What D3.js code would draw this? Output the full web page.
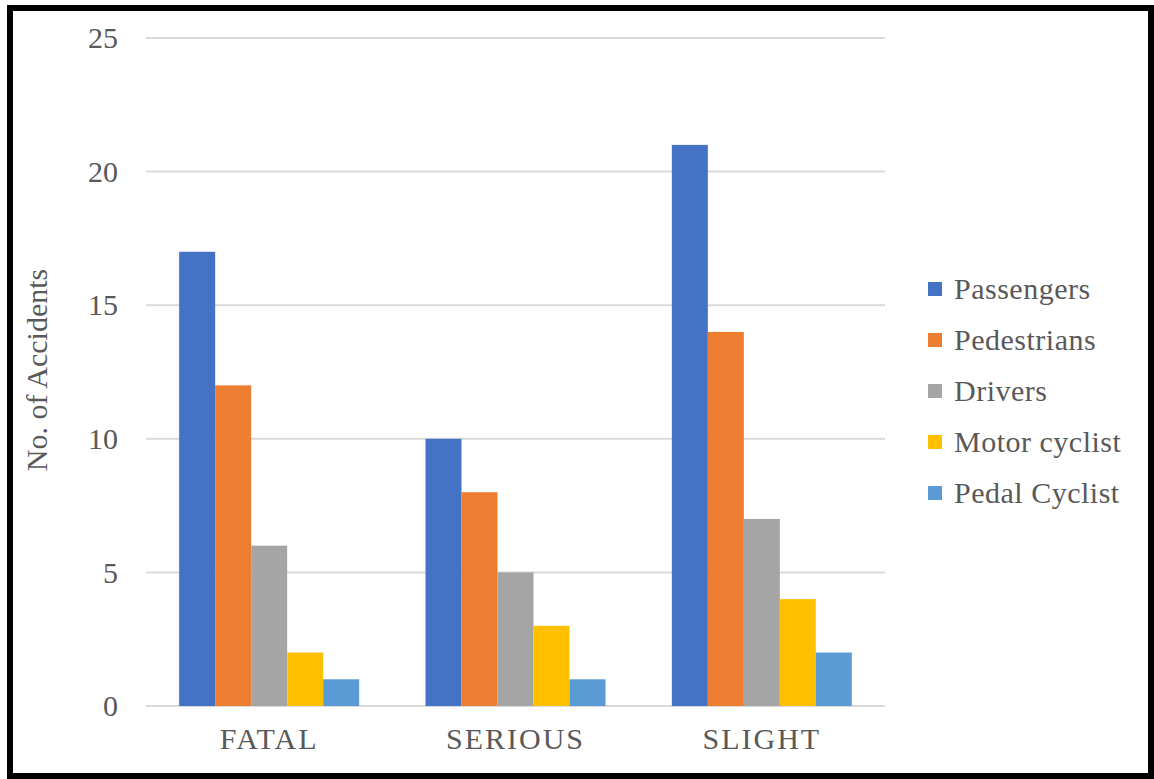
<!DOCTYPE html>
<html>
<head>
<meta charset="utf-8">
<script src="https://cdn.jsdelivr.net/npm/d3@7"></script>
<style>
  body { margin: 0; background: #fff; }
</style>
</head>
<body>
<div id="chart"></div>
<script>
var categories = ["FATAL", "SERIOUS", "SLIGHT"];
var series = ["Passengers", "Pedestrians", "Drivers", "Motor cyclist", "Pedal Cyclist"];
var colours = ["#4472C4", "#ED7D31", "#A5A5A5", "#FFC000", "#5B9BD5"];
var passengers = [17, 10, 21];
var pedestrians = [12, 8, 14];
var drivers = [6, 5, 7];
var motor_cyclist = [2, 3, 4];
var pedal_cyclist = [1, 1, 2];
var y_ticks = [0, 5, 10, 15, 20, 25];

var values = [passengers, pedestrians, drivers, motor_cyclist, pedal_cyclist];
var serif = "Liberation Serif";

function draw_chart() {
    var width = 1154, height = 779;
    var plot = { left: 146, right: 885, top: 38, bottom: 706 };

    var svg = d3.select("#chart")
        .append("svg")
        .attr("width", width)
        .attr("height", height);

    // outer frame
    svg.append("rect")
        .attr("x", 10).attr("y", 8)
        .attr("width", 1141).attr("height", 768)
        .attr("fill", "white")
        .attr("stroke", "black")
        .attr("stroke-width", 6);

    var x = d3.scaleBand()
        .domain(categories)
        .range([plot.left, plot.right]);

    var x_inner = d3.scaleBand()
        .domain(series)
        .range([0, 180]);

    var y = d3.scaleLinear()
        .domain([0, 25])
        .range([plot.bottom, plot.top]);

    // grid lines
    svg.append("g")
        .selectAll("line")
        .data(y_ticks)
        .enter()
        .append("line")
        .attr("x1", plot.left)
        .attr("x2", plot.right)
        .attr("y1", function (d) { return y(d); })
        .attr("y2", function (d) { return y(d); })
        .attr("stroke", "#d9d9d9")
        .attr("stroke-width", 2);

    // y axis labels
    var y_axis = svg.append("g")
        .attr("font-family", serif)
        .attr("transform", "translate(" + (plot.left - 28) + ",0)")
        .call(d3.axisLeft(y).tickValues(y_ticks).tickSize(0).tickPadding(0));
    y_axis.attr("font-family", serif);
    y_axis.select(".domain").remove();
    y_axis.selectAll("text")
        .style("font-family", serif)
        .style("font-size", "30px")
        .style("fill", "#595959");

    // x axis labels
    var x_axis = svg.append("g")
        .attr("transform", "translate(0," + (plot.bottom + 22) + ")")
        .call(d3.axisBottom(x).tickSize(0).tickPadding(0));
    x_axis.attr("font-family", serif);
    x_axis.select(".domain").remove();
    x_axis.selectAll("text")
        .style("font-family", serif)
        .style("font-size", "30px")
        .style("letter-spacing", "2px")
        .style("fill", "#595959");

    // bars
    var groups = svg.append("g")
        .selectAll("g")
        .data(categories)
        .enter()
        .append("g")
        .attr("transform", function (d) {
            return "translate(" + (x(d) + (x.bandwidth() - 180) / 2) + ",0)";
        });

    groups.selectAll("rect")
        .data(function (d, i) {
            return series.map(function (s, j) { return { s: s, v: values[j][i], c: colours[j] }; });
        })
        .enter()
        .append("rect")
        .attr("x", function (d) { return x_inner(d.s); })
        .attr("y", function (d) { return y(d.v); })
        .attr("width", x_inner.bandwidth())
        .attr("height", function (d) { return y(0) - y(d.v); })
        .attr("fill", function (d) { return d.c; });

    // y axis title
    svg.append("text")
        .attr("transform", "translate(47,370) rotate(-90)")
        .attr("text-anchor", "middle")
        .style("font-family", serif)
        .style("font-size", "30px")
        .style("fill", "#595959")
        .text("No. of Accidents");

    // legend
    var legend = svg.append("g")
        .selectAll("g")
        .data(series)
        .enter()
        .append("g")
        .attr("transform", function (d, i) { return "translate(928," + (289 + i * 51) + ")"; });

    legend.append("rect")
        .attr("x", 0).attr("y", -7)
        .attr("width", 14).attr("height", 14)
        .attr("fill", function (d, i) { return colours[i]; });

    legend.append("text")
        .attr("x", 26)
        .attr("dy", "0.33em")
        .style("font-family", serif)
        .style("font-size", "30px")
        .style("letter-spacing", "0.5px")
        .style("fill", "#595959")
        .text(function (d) { return d; });
}

draw_chart();
</script>
</body>
</html>
